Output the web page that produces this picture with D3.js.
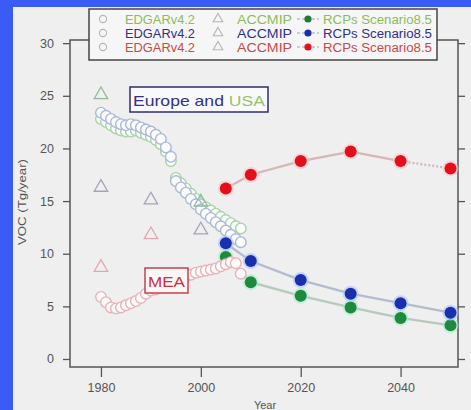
<!DOCTYPE html>
<html><head><meta charset="utf-8">
<script src="https://cdn.jsdelivr.net/npm/d3@7"></script>
<style>
html,body{margin:0;padding:0;background:#3a5cf4;}
svg{display:block;}
text{font-family:"Liberation Sans",Arial,sans-serif;}
</style></head><body>
<svg id="chart" width="471" height="410"></svg>
<script>
// EDGAR v4.2 annual emissions, 1980-2008 (Tg/year)
const edgarYears = [1980,1981,1982,1983,1984,1985,1986,1987,1988,1989,1990,1991,1992,1993,1994,
  1995,1996,1997,1998,1999,2000,2001,2002,2003,2004,2005,2006,2007,2008];
const edgarGreen = [22.8,22.5,22.2,21.9,21.7,21.6,21.6,21.7,21.5,21.3,21.1,20.8,20.4,19.7,18.8,
  17.2,16.7,16.2,15.7,15.2,14.7,14.4,14.1,13.8,13.5,13.2,12.9,12.6,12.4];
const edgarBlue = [23.4,23.1,22.8,22.5,22.3,22.2,22.3,22.2,22.0,21.8,21.6,21.3,20.9,20.1,19.2,
  16.9,16.3,15.8,15.2,14.7,14.2,13.8,13.4,13.0,12.6,12.2,11.8,11.4,11.1];
const edgarRed = [5.9,5.4,4.9,4.8,4.9,5.1,5.3,5.5,5.8,6.2,6.5,6.6,6.8,7.0,7.2,
  7.4,7.6,7.8,8.0,8.2,8.3,8.4,8.5,8.6,8.8,9.0,9.2,9.1,8.1];

// ACCMIP decadal estimates (null = no estimate shown)
const accmipYears = [1980,1990,2000];
const accmipGreen = [25.1,null,14.9];
const accmipBlue = [16.3,15.1,12.25];
const accmipRed = [8.7,11.8,null];

// RCP 8.5 scenario projections
const rcpYears = [2005,2010,2020,2030,2040,2050];
const rcpGreen = [9.7,7.3,6.0,4.9,3.9,3.2];
const rcpBlue = [11.0,9.3,7.5,6.2,5.3,4.4];
const rcpRed = [16.2,17.5,18.8,19.7,18.8,18.1];

// Axis ticks
const yTicks = [0,5,10,15,20,25,30];
const xTicks = [1980,2000,2020,2040];

const svg = d3.select("#chart");
const W = 471, H = 410;
const plot = {left:70, right:458, top:40, bottom:367};

// light panel inside the blue border
svg.append("rect").attr("x",13).attr("y",7).attr("width",W-13).attr("height",H-7).attr("fill","#efefef");

const x = d3.scaleLinear().domain([1973.8,2051.5]).range([plot.left,plot.right]);
const y = d3.scaleLinear().domain([-0.76,30.3]).range([plot.bottom,plot.top]);

// axes
const axisColor = "#555";
function styleAxis(g){
  g.select(".domain").remove();
  g.selectAll(".tick line").attr("stroke",axisColor).attr("stroke-width",1.3);
  g.selectAll(".tick text").attr("fill","#555").style("font-size","12.5px");
}
svg.append("g").attr("transform",`translate(${plot.left},0)`)
  .call(d3.axisLeft(y).tickValues(yTicks).tickSize(7).tickPadding(9)).call(styleAxis);
svg.append("g").attr("transform",`translate(${plot.right},0)`)
  .call(d3.axisRight(y).tickValues(yTicks).tickSize(7).tickFormat("")).call(styleAxis);
svg.append("g").attr("transform",`translate(0,${plot.bottom})`)
  .call(d3.axisBottom(x).tickValues(xTicks).tickSize(10).tickPadding(6).tickFormat(d3.format("d"))).call(styleAxis);

svg.append("rect").attr("x",plot.left).attr("y",plot.top)
  .attr("width",plot.right-plot.left).attr("height",plot.bottom-plot.top)
  .attr("fill","none").attr("stroke",axisColor).attr("stroke-width",1.5);

// axis titles
svg.append("text").attr("transform","translate(26,202) rotate(-90)")
  .attr("text-anchor","middle").attr("fill","#555").style("font-size","11px")
  .attr("textLength",86).attr("lengthAdjust","spacingAndGlyphs").text("VOC (Tg/year)");
svg.append("text").attr("x",265).attr("y",409).attr("text-anchor","middle")
  .attr("fill","#555").style("font-size","11px").text("Year");

// EDGAR open circles
function edgar(values, stroke){
  svg.append("g").selectAll("circle").data(values.map((v,i)=>[edgarYears[i],v]))
    .join("circle").attr("cx",d=>x(d[0])).attr("cy",d=>y(d[1])).attr("r",5.3)
    .attr("fill","#fbfbfb").attr("stroke",stroke).attr("stroke-width",1.4);
}
edgar(edgarGreen,"#a6d4a8");
edgar(edgarBlue,"#a9b9d6");

// ACCMIP triangles
function accmip(values, stroke){
  const pts = values.map((v,i)=>[accmipYears[i],v]).filter(d=>d[1]!==null);
  svg.append("g").selectAll("path").data(pts).join("path")
    .attr("transform",d=>`translate(${x(d[0])},${y(d[1])})`)
    .attr("d",d3.symbol(d3.symbolTriangle).size(78))
    .attr("fill","none").attr("stroke",stroke).attr("stroke-width",1.3);
}
accmip(accmipGreen,"#8fbc98");
accmip(accmipBlue,"#a4a4b8");
accmip(accmipRed,"#e2a6b2");

// RCP projections: lines with glowing dots
function rcp(values, lineColor, dotColor, haloColor, dottedTail){
  const pts = values.map((v,i)=>[rcpYears[i],v]);
  const line = d3.line().x(d=>x(d[0])).y(d=>y(d[1]));
  const n = pts.length;
  svg.append("path").attr("d",line(dottedTail ? pts.slice(0,n-1) : pts))
    .attr("fill","none").attr("stroke",lineColor).attr("stroke-width",2.3);
  if(dottedTail){
    svg.append("path").attr("d",line(pts.slice(n-2)))
      .attr("fill","none").attr("stroke",lineColor).attr("stroke-width",2.3)
      .attr("stroke-dasharray","2,2");
  }
  const g = svg.append("g");
  g.selectAll(".halo").data(pts).join("circle").attr("class","halo")
    .attr("cx",d=>x(d[0])).attr("cy",d=>y(d[1])).attr("r",8)
    .attr("fill",haloColor).attr("opacity",0.6);
  g.selectAll(".dot").data(pts).join("circle").attr("class","dot")
    .attr("cx",d=>x(d[0])).attr("cy",d=>y(d[1])).attr("r",6)
    .attr("fill",dotColor);
}
rcp(rcpGreen,"#b4cabb","#1d8a3c","#a6efd2",false);
rcp(rcpBlue,"#b2bccd","#1a2fae","#a8c4ff",false);
rcp(rcpRed,"#d9b6b6","#e3101c","#ffc4c8",true);

// MEA circles drawn last among the markers
edgar(edgarRed,"#e8b2ba");

// region labels
const eu = svg.append("g");
eu.append("rect").attr("x",130).attr("y",87).attr("width",138).attr("height",25)
  .attr("fill","#f9f9fd").attr("stroke","#2c2c6e").attr("stroke-width",1.5);
const euText = eu.append("text").attr("x",133).attr("y",106).style("font-size","14.5px")
  .attr("textLength",132).attr("lengthAdjust","spacingAndGlyphs");
euText.append("tspan").attr("fill","#33337e").text("Europe and ");
euText.append("tspan").attr("fill","#94c464").text("USA");

const mea = svg.append("g");
mea.append("rect").attr("x",145).attr("y",268).attr("width",43).attr("height",25)
  .attr("fill","#fdf7f7").attr("stroke","#c8404e").attr("stroke-width",1.5);
mea.append("text").attr("x",148).attr("y",287).style("font-size","14.5px")
  .attr("fill","#c8303e").attr("textLength",37).attr("lengthAdjust","spacingAndGlyphs").text("MEA");

// legend
const legendRows = [
  {text:"#8cbc58", dot:"#1f7a35"},
  {text:"#30308a", dot:"#1a2fae"},
  {text:"#c64a4a", dot:"#e3101c"}
];
const lg = svg.append("g");
lg.append("rect").attr("x",89).attr("y",9).attr("width",348).attr("height",51)
  .attr("fill","#f6f6f6").attr("stroke","#444").attr("stroke-width",1.5);
legendRows.forEach((r,i)=>{
  const cy = 19 + i*14;
  lg.append("circle").attr("cx",103).attr("cy",cy).attr("r",3.6)
    .attr("fill","none").attr("stroke","#b5b5b5").attr("stroke-width",1.1);
  lg.append("text").attr("x",125).attr("y",cy+4.5).attr("fill",r.text).style("font-size","12px")
    .attr("textLength",70).attr("lengthAdjust","spacingAndGlyphs").text("EDGARv4.2");
  lg.append("path").attr("transform",`translate(218,${cy})`)
    .attr("d",d3.symbol(d3.symbolTriangle).size(40))
    .attr("fill","none").attr("stroke","#b5b5b5").attr("stroke-width",1.1);
  lg.append("text").attr("x",237).attr("y",cy+4.5).attr("fill",r.text).style("font-size","12px")
    .attr("textLength",55).attr("lengthAdjust","spacingAndGlyphs").text("ACCMIP");
  lg.append("line").attr("x1",297).attr("x2",319).attr("y1",cy).attr("y2",cy)
    .attr("stroke","#9aa2b0").attr("stroke-width",1.2).attr("stroke-dasharray","3,2");
  lg.append("circle").attr("cx",308).attr("cy",cy).attr("r",3.6).attr("fill",r.dot);
  lg.append("text").attr("x",323).attr("y",cy+4.5).attr("fill",r.text).style("font-size","12px")
    .attr("textLength",109).attr("lengthAdjust","spacingAndGlyphs").text("RCPs Scenario8.5");
});
</script>
</body></html>
